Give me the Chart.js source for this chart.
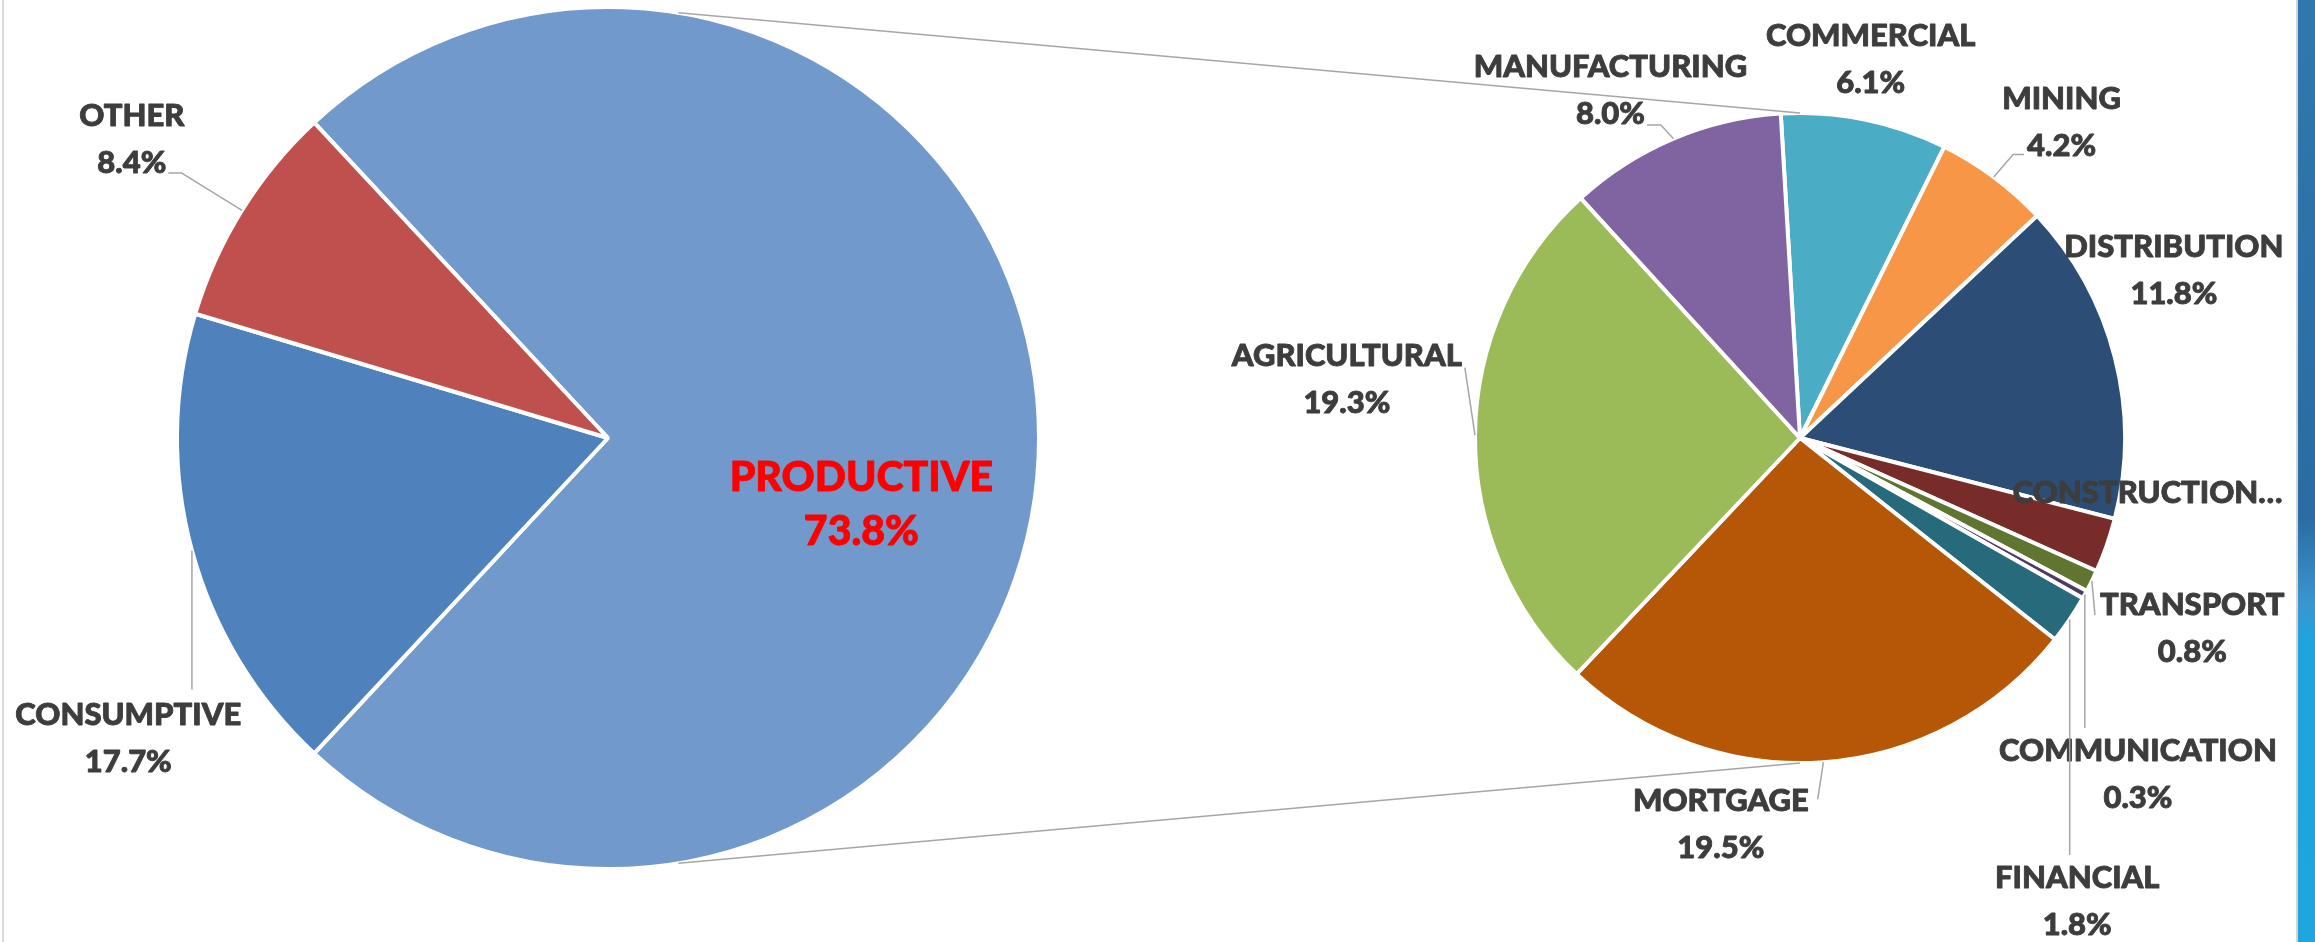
<!DOCTYPE html>
<html>
<head>
<meta charset="utf-8">
<script src="https://cdn.jsdelivr.net/npm/chart.js@4.4.1/dist/chart.umd.min.js"></script>
<style>
html, body { margin: 0; padding: 0; background: #fff; }
#wrap { position: relative; width: 2315px; height: 942px; overflow: hidden; background: #fff; }
#wrap canvas { position: absolute; left: 0; top: 0; }
.frameL { position: absolute; left: 2px; top: 0; width: 2px; height: 942px; background: #dadada; }
.frameR { position: absolute; left: 2296px; top: 0; width: 2px; height: 942px; background: #d4d4d4; }
.strip { position: absolute; left: 2298px; top: 0; width: 17px; height: 942px;
  background: linear-gradient(to bottom, #2f78ad 0%, #2a6ca3 55%, #3a96d0 64%, #1fa4dd 68%, #1fa6df 100%); }
</style>
</head>
<body>
<div id="wrap">
  <div class="frameL"></div>
  <div class="frameR"></div>
  <div class="strip"></div>
  <canvas id="mainPie" width="2315" height="942"></canvas>
  <canvas id="subPie" width="2315" height="942"></canvas>
</div>
<script>
// first pie: loan purpose
const mainLabels = ['PRODUCTIVE', 'CONSUMPTIVE', 'OTHER'];
const mainValues = [73.8, 17.7, 8.4];
const mainColors = ['#7199cb', '#4f81bd', '#c0504d'];

// second pie: breakdown of PRODUCTIVE (shares of the total)
const subLabels = ['COMMERCIAL', 'MINING', 'DISTRIBUTION', 'CONSTRUCTION', 'TRANSPORT',
  'COMMUNICATION', 'FINANCIAL', 'MORTGAGE', 'AGRICULTURAL', 'MANUFACTURING'];
const subValues = [6.1, 4.2, 11.8, 2.0, 0.8, 0.3, 1.8, 19.5, 19.3, 8.0];
const subColors = ['#4bacc6', '#f79646', '#2c4d75', '#772c2a', '#5f7530',
  '#4d3b62', '#276a7c', '#b65708', '#9bbb59', '#8064a2'];

const LEADER = '#a6a6a6';
const TEXT = '#3d3d3d';

// label placement: shift (deg) from the slice middle, distance in radii
const mainLayout = [
  { shift: 14.8, dist: 0.608, color: '#ff0000', size: 41, lh: 54 },
  { shift: -16.9, dist: 1.313, leader: { side: 'above', gap: 14 } },
  { shift: 0.2, dist: 1.304, leader: { side: 'right', line: 1, dy: 10, gap: 2, stub: 13 } }
];
const subLayout = [
  { shift: -0.9, dist: 1.185 },
  { shift: 3.1, dist: 1.26, leader: { side: 'left', line: 1, dy: 8, gap: 3, stub: 11 } },
  { shift: -9.7, dist: 1.26 },
  { shift: -10.3, dist: 1.083, cut: true },
  { shift: -0.2, dist: 1.342, leader: { side: 'left', line: 0, dy: 10, gap: 5, stub: 0 } },
  { shift: 16.1, dist: 1.468, leader: { side: 'above', gap: 12 } },
  { shift: 25.2, dist: 1.662, leader: { side: 'above', gap: 12 } },
  { shift: 15.7, dist: 1.215, leader: { side: 'right', line: 0, dy: -2, gap: 9, stub: 0 } },
  { shift: 6.9, dist: 1.406, leader: { side: 'right', line: 0, dy: 12, gap: 3, stub: 0 } },
  { shift: -5.7, dist: 1.218, leader: { side: 'right', line: 1, dy: 11, gap: 2, stub: 14 } }
];

const sliceLabels = {
  id: 'sliceLabels',
  afterDatasetsDraw(chart, args, opts) {
    const ctx = chart.ctx;
    const meta = chart.getDatasetMeta(0);
    const names = chart.data.labels;
    const values = chart.data.datasets[0].data;
    ctx.save();
    meta.data.forEach((arc, i) => {
      const lay = opts.layout[i];
      if (!lay) return;
      const p = arc.getProps(['x', 'y', 'startAngle', 'endAngle', 'outerRadius'], true);
      const mid = (p.startAngle + p.endAngle) / 2;
      const a = mid + lay.shift * Math.PI / 180;
      const cx = p.x + Math.cos(a) * p.outerRadius * lay.dist;
      const cy = p.y + Math.sin(a) * p.outerRadius * lay.dist;
      const lines = lay.cut ? [names[i] + '\u2026'] : [names[i], values[i].toFixed(1) + '%'];
      const size = lay.size || 31;
      const lh = lay.lh || 47;
      const font = '900 ' + size + 'px Lato, "Open Sans", sans-serif';
      const lineY = k => cy + (k - (lines.length - 1) / 2) * lh;

      if (lay.leader) {
        const L = lay.leader;
        const ex = p.x + Math.cos(mid) * p.outerRadius;
        const ey = p.y + Math.sin(mid) * p.outerRadius;
        let pts;
        if (L.side === 'above') {
          pts = [[ex, ey], [ex, lineY(0) - size * 0.36 - L.gap]];
        } else {
          ctx.font = font;
          const w = ctx.measureText(lines[L.line]).width;
          const ty = lineY(L.line) + L.dy;
          const dir = L.side === 'right' ? 1 : -1;
          const tx = cx + dir * (w / 2 + L.gap);
          pts = [[ex, ey], [tx + dir * L.stub, ty], [tx, ty]];
        }
        ctx.strokeStyle = LEADER;
        ctx.lineWidth = 1.5;
        ctx.beginPath();
        pts.forEach((q, k) => k ? ctx.lineTo(q[0], q[1]) : ctx.moveTo(q[0], q[1]));
        ctx.stroke();
      }

      ctx.font = font;
      ctx.fillStyle = lay.color || TEXT;
      ctx.strokeStyle = lay.color || TEXT;
      ctx.lineWidth = 0.9;
      ctx.lineJoin = 'round';
      ctx.textAlign = 'center';
      ctx.textBaseline = 'middle';
      lines.forEach((t, k) => {
        ctx.fillText(t, cx, lineY(k));
        ctx.strokeText(t, cx, lineY(k));
      });
    });
    ctx.restore();
  }
};

// lines joining the split slice to the second pie
const pieConnector = {
  id: 'pieConnector',
  afterDraw(chart, args, opts) {
    const main = Chart.getChart('mainPie');
    const a = main.getDatasetMeta(0).data[0].getProps(['x', 'y', 'outerRadius'], true);
    const b = chart.getDatasetMeta(0).data[0].getProps(['x', 'y', 'outerRadius'], true);
    const t = opts.angle * Math.PI / 180;
    const ctx = chart.ctx;
    ctx.save();
    ctx.strokeStyle = LEADER;
    ctx.lineWidth = 1.6;
    ctx.beginPath();
    ctx.moveTo(a.x + a.outerRadius * Math.sin(t), a.y - a.outerRadius * Math.cos(t));
    ctx.lineTo(b.x, b.y - b.outerRadius);
    ctx.moveTo(a.x + a.outerRadius * Math.sin(t), a.y + a.outerRadius * Math.cos(t));
    ctx.lineTo(b.x, b.y + b.outerRadius);
    ctx.stroke();
    ctx.restore();
  }
};

const mainTotal = mainValues.reduce((s, v) => s + v, 0);

new Chart(document.getElementById('mainPie'), {
  type: 'pie',
  data: {
    labels: mainLabels,
    datasets: [{ data: mainValues, backgroundColor: mainColors, borderColor: '#ffffff', borderWidth: 4 }]
  },
  options: {
    responsive: false,
    animation: false,
    events: [],
    radius: 431,
    // split slice centred on the right-hand side
    rotation: 90 - (mainValues[0] / mainTotal) * 180,
    layout: { padding: { left: 0, top: 0, right: 1099, bottom: 66 } },
    plugins: {
      legend: { display: false },
      tooltip: { enabled: false },
      sliceLabels: { layout: mainLayout }
    }
  },
  plugins: [sliceLabels]
});

new Chart(document.getElementById('subPie'), {
  type: 'pie',
  data: {
    labels: subLabels,
    datasets: [{ data: subValues, backgroundColor: subColors, borderColor: '#ffffff', borderWidth: 4 }]
  },
  options: {
    responsive: false,
    animation: false,
    events: [],
    radius: 325,
    rotation: -3.4,
    layout: { padding: { left: 1460, top: 98, right: 175, bottom: 164 } },
    plugins: {
      legend: { display: false },
      tooltip: { enabled: false },
      sliceLabels: { layout: subLayout },
      pieConnector: { angle: 9.4 }
    }
  },
  plugins: [sliceLabels, pieConnector]
});
</script>
</body>
</html>
